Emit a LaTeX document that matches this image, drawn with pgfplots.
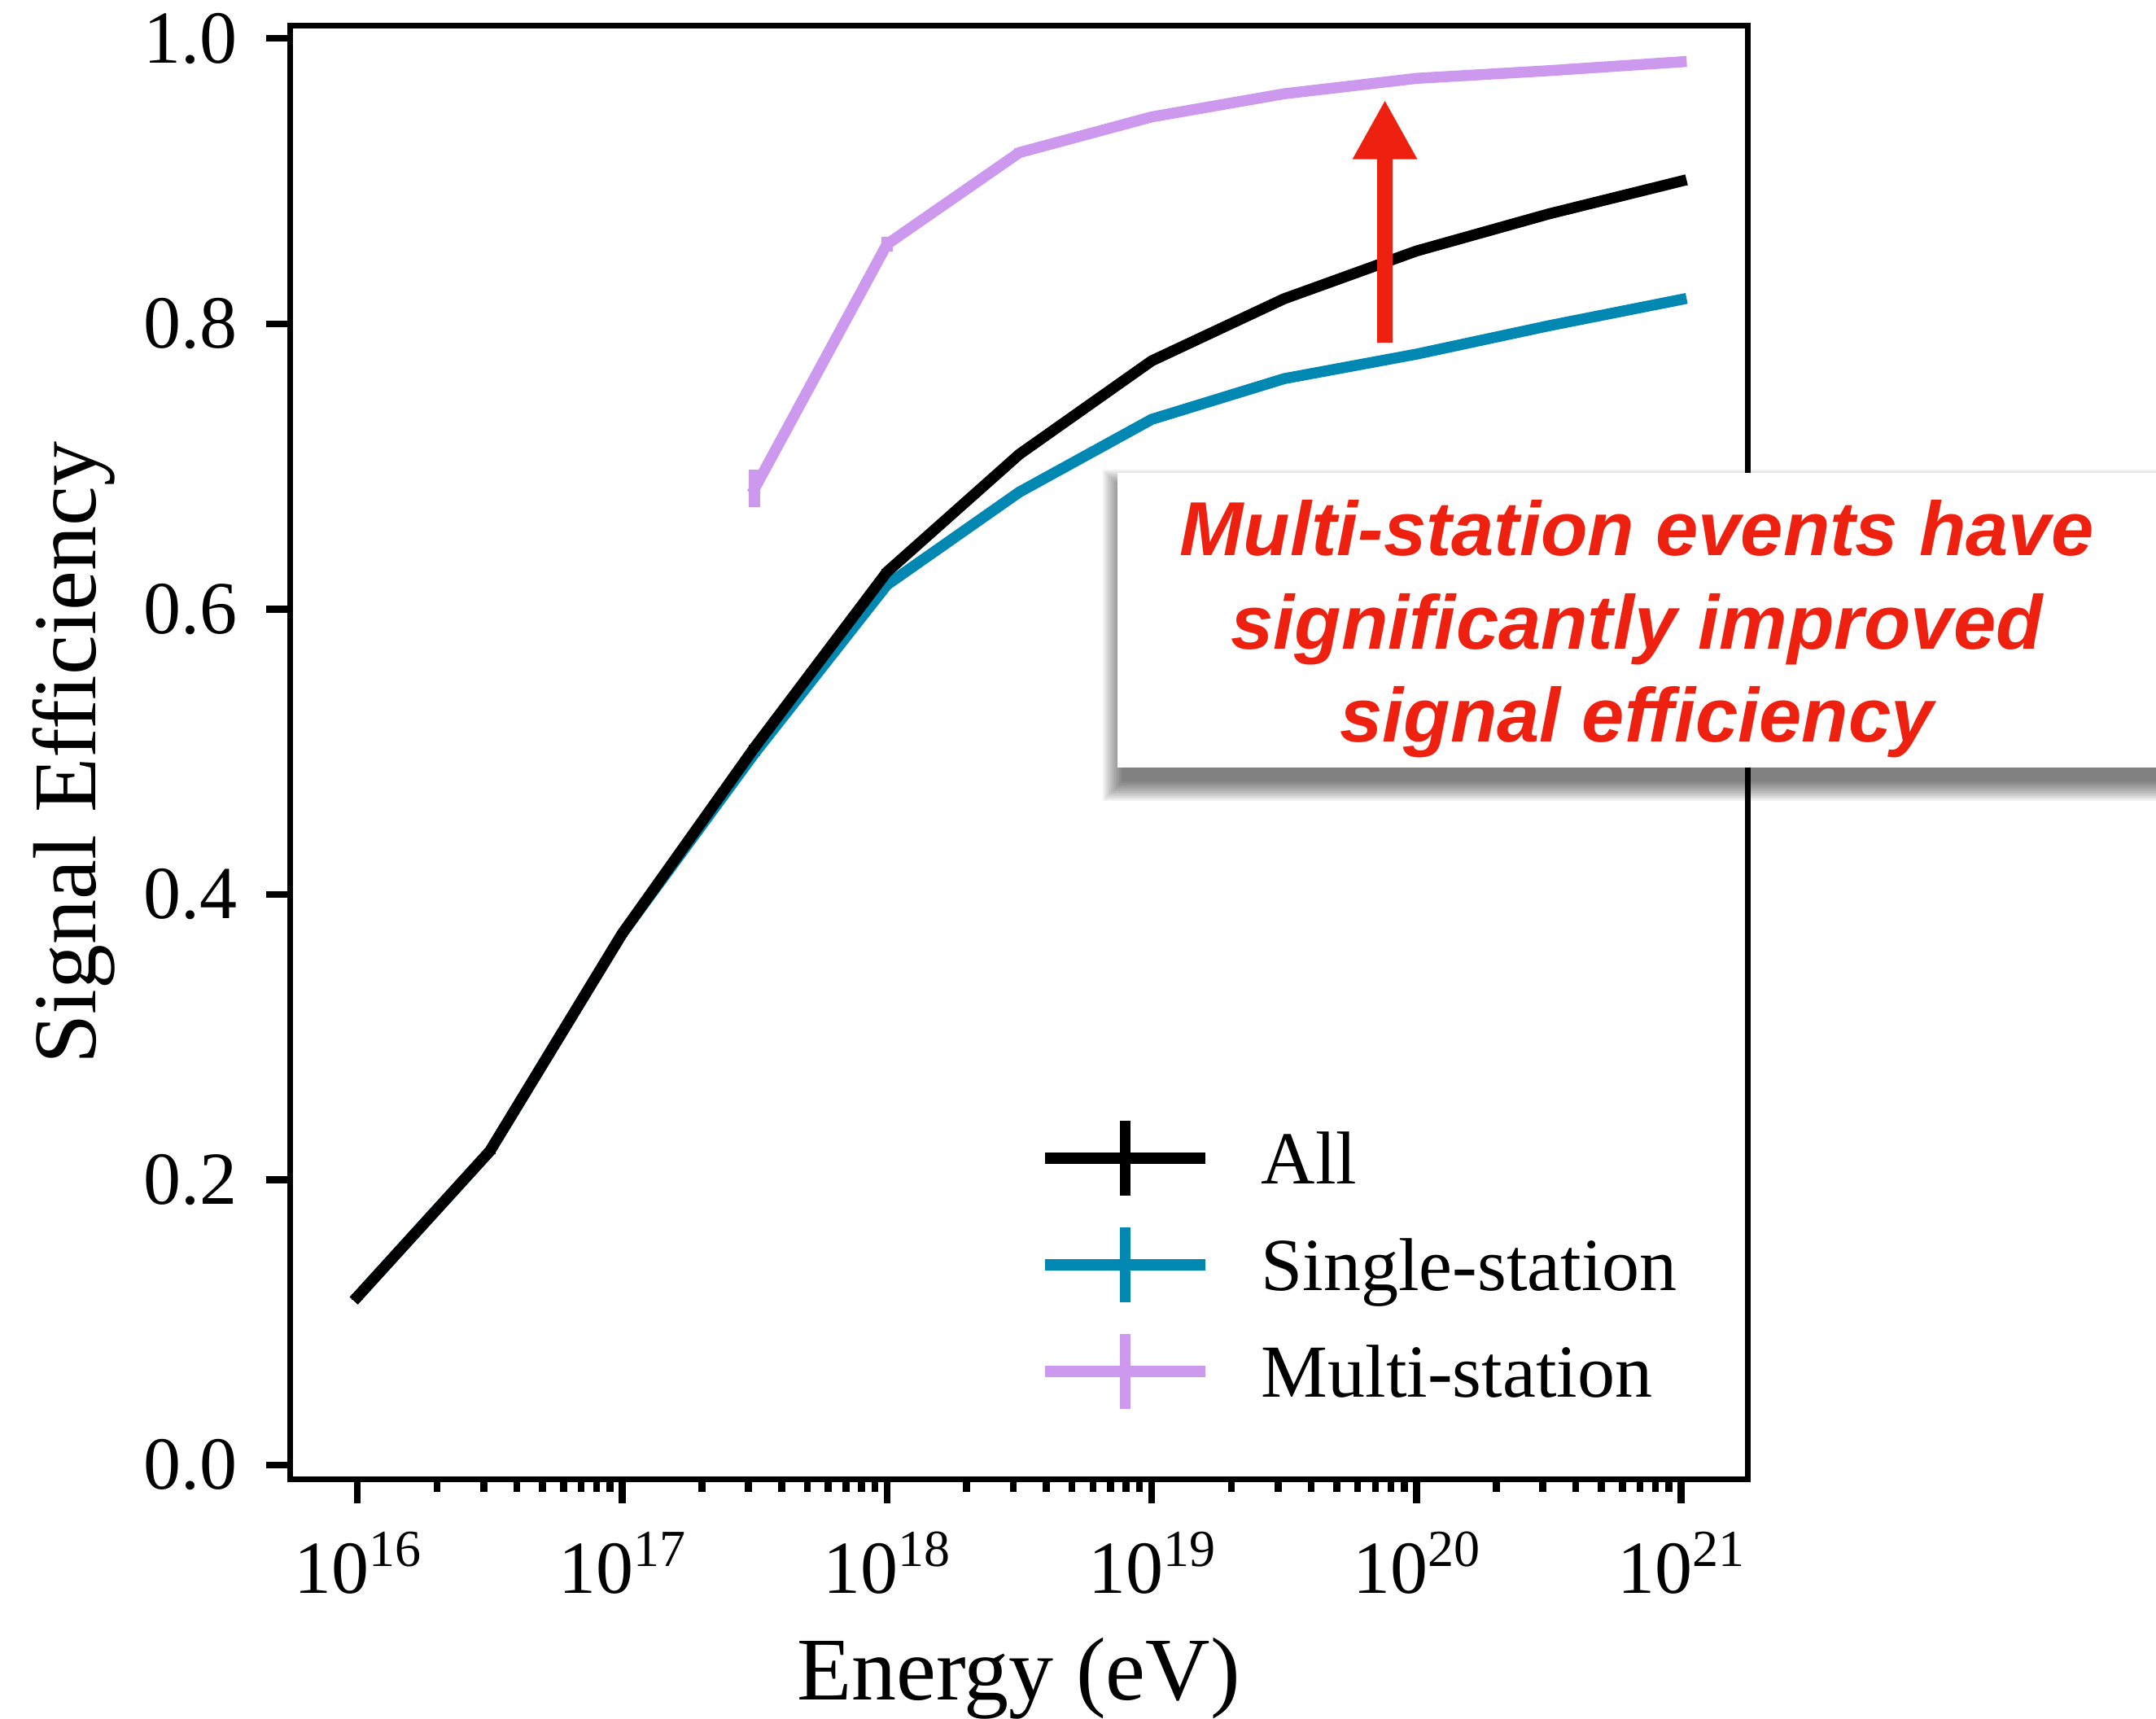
\documentclass[border=0pt]{standalone}
\usepackage{fontspec}
\setmainfont{Liberation Serif}
\newfontfamily\annfont{Liberation Sans}
\usepackage{pgfplots}
\pgfplotsset{compat=1.18}
\usetikzlibrary{arrows.meta}
\definecolor{cblue}{RGB}{0,136,178}
\definecolor{cpurple}{RGB}{204,153,238}
\definecolor{cred}{RGB}{238,33,17}
\newcommand{\tk}[1]{10\raisebox{3.3pt}{\fontsize{6.4pt}{7pt}\selectfont #1}}
\begin{document}
\begin{tikzpicture}
\begin{axis}[
  scale only axis, width=179.1pt, height=178.6pt,
  xmode=log, xmin=5.55e15, xmax=1.78e21,
  ymin=-0.0103, ymax=1.0087,
  xtick={1e16,1e17,1e18,1e19,1e20,1e21},
  xticklabels={\tk{16},\tk{17},\tk{18},\tk{19},\tk{20},\tk{21}},
  ytick={0,0.2,0.4,0.6,0.8,1.0},
  /pgf/number format/assume math mode=true,
  yticklabel style={/pgf/number format/fixed, /pgf/number format/fixed zerofill, /pgf/number format/precision=1},
  tick label style={font=\fontsize{9.2pt}{11pt}\selectfont},
  label style={font=\fontsize{11pt}{13pt}\selectfont},
  xlabel={Energy (eV)}, ylabel={Signal Efficiency},
  xlabel style={at={(axis description cs:0.5,-0.1512)}, anchor=base},
  ylabel style={at={(axis description cs:-0.1334,0.5)}, anchor=base},
  axis line style={line width=0.7pt},
  tick style={line width=0.85pt, black},
  major tick length=2.9pt, minor tick length=1.5pt, tick align=outside,
  xtick pos=left, ytick pos=left,
  legend image code/.code={
    \draw[#1, line cap=butt] (0pt,0pt) -- (19.7pt,0pt);
    \pgfinterruptboundingbox
    \draw[#1, line cap=butt] (9.85pt,-4.6pt) -- (9.85pt,4.6pt);
    \endpgfinterruptboundingbox
  },
  legend style={draw=none, fill=none, at={(axis description cs:0.5143,0.0566)}, anchor=south west,
    inner sep=0pt, outer sep=0pt, row sep=6.7pt, column sep=6.2pt,
    font=\fontsize{9.2pt}{11pt}\selectfont,
    nodes={inner sep=0pt, text height=6.4pt, text depth=0pt}},
  legend cell align=left,
]
% Single-station
\addplot[cblue, line width=1.35pt, line join=round, line cap=rect, forget plot,
  error bars/.cd, y dir=both, y explicit, error mark=none,
  error bar style={line width=1.35pt, line cap=butt}]
coordinates {
 (1e16,0.118) +- (0,0.002)
 (3.1623e16,0.220) +- (0,0.002)
 (1e17,0.3725) +- (0,0.002)
 (3.1623e17,0.499) +- (0,0.002)
 (1e18,0.617) +- (0,0.002)
 (3.1623e18,0.682) +- (0,0.002)
 (1e19,0.733) +- (0,0.002)
 (3.1623e19,0.7615) +- (0,0.002)
 (1e20,0.7787) +- (0,0.002)
 (3.1623e20,0.7986) +- (0,0.002)
 (1e21,0.817) +- (0,0.002)
};
% All
\addplot[black, line width=1.35pt, line join=round, line cap=rect, forget plot,
  error bars/.cd, y dir=both, y explicit, error mark=none,
  error bar style={line width=1.35pt, line cap=butt}]
coordinates {
 (1e16,0.118) +- (0,0.002)
 (3.1623e16,0.220) +- (0,0.002)
 (1e17,0.3725) +- (0,0.002)
 (3.1623e17,0.503) +- (0,0.002)
 (1e18,0.626) +- (0,0.002)
 (3.1623e18,0.7085) +- (0,0.002)
 (1e19,0.774) +- (0,0.002)
 (3.1623e19,0.8175) +- (0,0.002)
 (1e20,0.851) +- (0,0.002)
 (3.1623e20,0.877) +- (0,0.002)
 (1e21,0.900) +- (0,0.002)
};
% Multi-station
\addplot[cpurple, line width=1.35pt, line join=round, line cap=rect, forget plot,
  error bars/.cd, y dir=both, y explicit, error mark=none,
  error bar style={line width=1.35pt, line cap=butt}]
coordinates {
 (3.1623e17,0.6845) +- (0,0.013)
 (1e18,0.8557) +- (0,0.005)
 (3.1623e18,0.920) +- (0,0.003)
 (1e19,0.945) +- (0,0.002)
 (3.1623e19,0.9612) +- (0,0.002)
 (1e20,0.972) +- (0,0.002)
 (3.1623e20,0.9774) +- (0,0.002)
 (1e21,0.9836) +- (0,0.002)
};
\addlegendimage{black, line width=1.35pt}
\addlegendentry{All}
\addlegendimage{cblue, line width=1.35pt}
\addlegendentry{Single-station}
\addlegendimage{cpurple, line width=1.35pt}
\addlegendentry{Multi-station}
\draw[cred, line width=1.9pt, -{Triangle[length=7.3pt, width=7.4pt]}]
  (axis cs:7.6e19,0.7866) -- (axis cs:7.6e19,0.957);
\end{axis}
% annotation box with soft shadow
\foreach \r in {0.2,0.4,...,2.6}{
  \fill[black, opacity=0.05] ({(102.5-\r)*1pt},{(86.0-\r)*1pt}) rectangle ({(236+\r)*1pt},{(121.5+\r)*1pt});
}
\fill[white] (101.7pt,87.5pt) rectangle (236pt,123.7pt);
\begin{scope}[every node/.style={anchor=base, inner sep=0pt, text=cred, font=\fontsize{9.4pt}{11.5pt}\selectfont\annfont\bfseries\itshape}]
\node at (165.5pt,113.5pt) {Multi-station events have};
\node at (165.5pt,102.0pt) {significantly improved};
\node at (165.5pt,90.6pt) {signal efficiency};
\end{scope}
\pgfresetboundingbox
\path[use as bounding box] (-35.6pt,-29.4pt) rectangle (229.3pt,181.8pt);
\end{tikzpicture}
\end{document}
